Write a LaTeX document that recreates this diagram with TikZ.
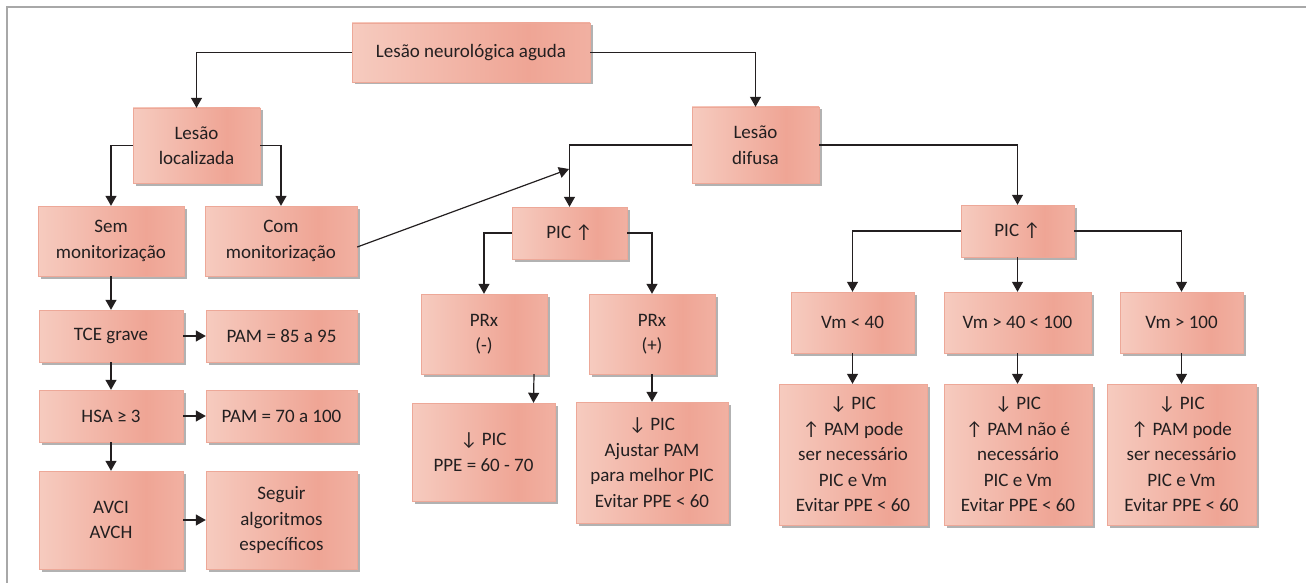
\documentclass[tikz,border=0pt]{standalone}
\usepackage{fontspec}
\setmainfont{Carlito}
\usetikzlibrary{arrows.meta,shadows}

\definecolor{boxlight}{HTML}{F6CBBF}
\definecolor{boxdark}{HTML}{EFA595}
\definecolor{boxedge}{HTML}{EDA898}
\definecolor{ink}{HTML}{231F20}
\definecolor{frame}{HTML}{A8A8A8}

% light on the left, darkest a bit right of centre
\pgfdeclarehorizontalshading{salmon}{100bp}{color(0bp)=(boxlight); color(25bp)=(boxlight);
  color(62bp)=(boxdark); color(75bp)=(boxdark!70!boxlight); color(100bp)=(boxdark!70!boxlight)}

\begin{document}
\begin{tikzpicture}[x=1pt, y=-1pt,
    box/.style={draw=boxedge, line width=0.4pt, shading=salmon, rectangle, inner sep=0pt,
                align=center, text=ink,
                font=\fontsize{19}{25.5}\selectfont,
                drop shadow={shadow xshift=2.5pt, shadow yshift=-2.5pt, fill=black, opacity=0.3}},
    link/.style={draw=ink, line width=1.2pt, -{Triangle[length=10pt,width=11pt]}}]
    \useasboundingbox (0,0) rectangle (1306,583);
    \draw[frame, line width=1.5pt] (7,583) -- (7,7) -- (1306,7);

    % top of the tree
    \node[box, minimum width=238, minimum height=59] (root) at (471,52.5)   {Lesão neurológica aguda};
    \node[box, minimum width=127, minimum height=75] (loc)  at (196.5,145.5) {Lesão\\localizada};
    \node[box, minimum width=127, minimum height=76] (dif)  at (755.5,145)   {Lesão\\difusa};

    % localised lesion branch
    \node[box, minimum width=146, minimum height=70] (sem)  at (111,241)    {Sem\\monitorização};
    \node[box, minimum width=152, minimum height=70] (com)  at (281,241)    {Com\\monitorização};
    \node[box, minimum width=144, minimum height=52] (tce)  at (111,336)    {TCE grave};
    \node[box, minimum width=151, minimum height=52] (pam1) at (281.5,336)  {PAM = 85 a 95};
    \node[box, minimum width=144, minimum height=52] (hsa)  at (111,416)    {HSA ≥ 3};
    \node[box, minimum width=151, minimum height=52] (pam2) at (281.5,416)  {PAM = 70 a 100};
    \node[box, minimum width=144, minimum height=98] (avc)  at (111,520)    {AVCI\\AVCH};
    \node[box, minimum width=151, minimum height=98] (seg)  at (281.5,520)  {Seguir\\algoritmos\\específicos};

    % diffuse lesion, PRx side
    \node[box, minimum width=115, minimum height=52]  (pic1) at (569.5,233)  {PIC ↑};
    \node[box, minimum width=126, minimum height=80]  (prxm) at (484,334)    {PRx\\(-)};
    \node[box, minimum width=126, minimum height=80]  (prxp) at (652,334)    {PRx\\(+)};
    \node[box, minimum width=143, minimum height=98]  (ppe)  at (483.5,452)  {↓ PIC\\PPE = 60 - 70};
    \node[box, minimum width=152, minimum height=121] (aju)  at (652,462.5)  {↓ PIC\\Ajustar PAM\\para melhor PIC\\Evitar PPE < 60};

    % diffuse lesion, Vm side
    \node[box, minimum width=113, minimum height=52]  (pic2) at (1017.5,231)  {PIC ↑};
    \node[box, minimum width=123, minimum height=61]  (vm1)  at (852.5,322.5) {Vm < 40};
    \node[box, minimum width=147, minimum height=61]  (vm2)  at (1017.5,322.5) {Vm > 40 < 100};
    \node[box, minimum width=123, minimum height=61]  (vm3)  at (1181.5,322.5) {Vm > 100};
    \node[box, minimum width=148, minimum height=141] (res1) at (853,454.5)   {↓ PIC\\↑ PAM pode\\ser necessário\\PIC e Vm\\Evitar PPE < 60};
    \node[box, minimum width=148, minimum height=141] (res2) at (1018,454.5)  {↓ PIC\\↑ PAM não é\\necessário\\PIC e Vm\\Evitar PPE < 60};
    \node[box, minimum width=149, minimum height=141] (res3) at (1181.5,454.5) {↓ PIC\\↑ PAM pode\\ser necessário\\PIC e Vm\\Evitar PPE < 60};

    \coordinate (meet) at (569,169);

    % elbow connectors
    \foreach \a/\b in {root/loc, loc/sem, dif/pic1, pic1/prxm, pic2/vm1}
        \draw[link] (\a.west) -| (\b.north);
    \foreach \a/\b in {root/dif, loc/com, dif/pic2, pic1/prxp, pic2/vm3}
        \draw[link] (\a.east) -| (\b.north);
    % straight down
    \foreach \a/\b in {sem/tce, tce/hsa, hsa/avc, prxp/aju, pic2/vm2, vm1/res1, vm2/res2, vm3/res3}
        \draw[link] (\a.south) -- (\a.south |- \b.north);
    % straight across
    \foreach \a/\b in {tce/pam1, hsa/pam2, avc/seg}
        \draw[link] (\a.east) -- (\b.west);
    \draw[link] ([xshift=50pt]prxm.south) -- ([xshift=50pt]ppe.north);
    \draw[link] ([yshift=-6pt]com.east) -- (meet);
\end{tikzpicture}
\end{document}
